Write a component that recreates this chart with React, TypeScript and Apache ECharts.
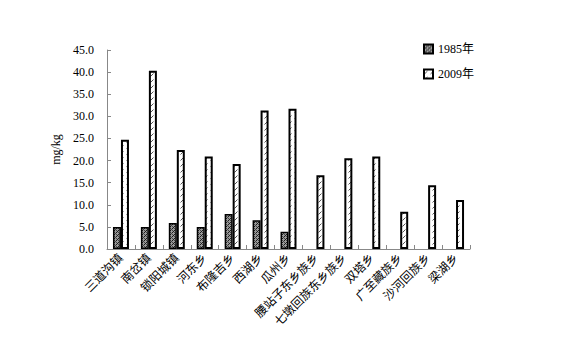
import React, { useEffect, useRef } from "react";
import * as echarts from "echarts";

const categories = [
  "三道沟镇", "南岔镇", "锁阳城镇", "河东乡", "布隆吉乡", "西湖乡", "瓜州乡",
  "腰站子东乡族乡", "七墩回族东乡族乡", "双塔乡", "广至藏族乡", "沙河回族乡", "梁湖乡",
];
const values1985: (number | null)[] = [5.0, 5.0, 5.9, 5.0, 7.9, 6.5, 3.9, null, null, null, null, null, null];
const values2009 = [24.7, 40.3, 22.4, 20.9, 19.2, 31.3, 31.7, 16.7, 20.5, 20.9, 8.4, 14.4, 11.1];
const seriesNames = ["1985年", "2009年"];
const yTicks = { min: 0, max: 45, interval: 5 };

function makeDots(): HTMLCanvasElement {
  const c = document.createElement("canvas");
  c.width = 4;
  c.height = 4;
  const ctx = c.getContext("2d")!;
  ctx.fillStyle = "#9a9a9a";
  ctx.fillRect(0, 0, 4, 4);
  ctx.fillStyle = "#1a1a1a";
  ctx.fillRect(0, 0, 1, 1);
  ctx.fillRect(2, 2, 1, 1);
  ctx.fillRect(1, 3, 1, 1);
  ctx.fillStyle = "#444";
  ctx.fillRect(2, 0, 1, 1);
  ctx.fillRect(0, 2, 1, 1);
  ctx.fillRect(3, 1, 1, 1);
  return c;
}

function makeHatch(): HTMLCanvasElement {
  const c = document.createElement("canvas");
  c.width = 6;
  c.height = 6;
  const ctx = c.getContext("2d")!;
  ctx.fillStyle = "#fff";
  ctx.fillRect(0, 0, 6, 6);
  ctx.strokeStyle = "#555";
  ctx.lineWidth = 1;
  ctx.beginPath();
  ctx.moveTo(0.5, 4.5);
  ctx.lineTo(3.5, 1.5);
  ctx.stroke();
  return c;
}

const FONT = "'Liberation Serif', 'DejaVu Serif', 'Noto Sans CJK SC', serif";

export default function App() {
  const ref = useRef<HTMLDivElement>(null);
  useEffect(() => {
    document.body.style.margin = "0";
    if (!ref.current) return;
    const chart = echarts.init(ref.current, undefined, { renderer: "svg" });
    const dots = { image: makeDots(), repeat: "repeat" } as any;
    const hatch = { image: makeHatch(), repeat: "repeat" } as any;
    chart.setOption({
      animation: false,
      backgroundColor: "#fff",
      textStyle: { fontFamily: FONT, color: "black" },
      grid: { left: 107, right: 108, top: 50, bottom: 107, containLabel: false },
      legend: {
        orient: "vertical",
        left: 418,
        top: 38,
        itemWidth: 9,
        itemHeight: 9,
        itemGap: 13,
        icon: "rect",
        textStyle: { fontFamily: FONT, fontSize: 12, color: "#000" },
        data: seriesNames,
      },
      xAxis: {
        type: "category",
        data: categories,
        axisLine: { lineStyle: { color: "#888", width: 1 } },
        axisTick: { show: true, inside: true, length: 4, lineStyle: { color: "#888" } },
        axisLabel: {
          interval: 0,
          rotate: 45,
          margin: 7,
          fontSize: 12,
          color: "black",
          opacity: 1,
          fontFamily: FONT,
        },
        splitLine: { show: false },
      },
      yAxis: {
        type: "value",
        min: yTicks.min,
        max: yTicks.max,
        interval: yTicks.interval,
        name: "mg/kg",
        nameLocation: "middle",
        nameGap: 44,
        nameRotate: 90,
        nameTextStyle: { fontFamily: FONT, fontSize: 12, color: "#000" },
        axisLine: { show: true, lineStyle: { color: "#888", width: 1 } },
        axisTick: { show: true, inside: true, length: 4, lineStyle: { color: "#888" } },
        axisLabel: {
          margin: 13,
          fontSize: 12,
          color: "#000",
          fontFamily: FONT,
          formatter: (v: number) => v.toFixed(1),
        },
        splitLine: { show: false },
      },
      series: [
        {
          name: seriesNames[0],
          type: "bar",
          data: values1985,
          barWidth: 8,
          barGap: "0%",
          itemStyle: { color: dots, borderColor: "#000", borderWidth: 1.5 },
        },
        {
          name: seriesNames[1],
          type: "bar",
          data: values2009,
          barWidth: 8,
          barGap: "0%",
          itemStyle: { color: hatch, borderColor: "#000", borderWidth: 2 },
        },
      ],
    });
    return () => chart.dispose();
  }, []);
  return <div ref={ref} style={{ width: 578, height: 356 }} />;
}
